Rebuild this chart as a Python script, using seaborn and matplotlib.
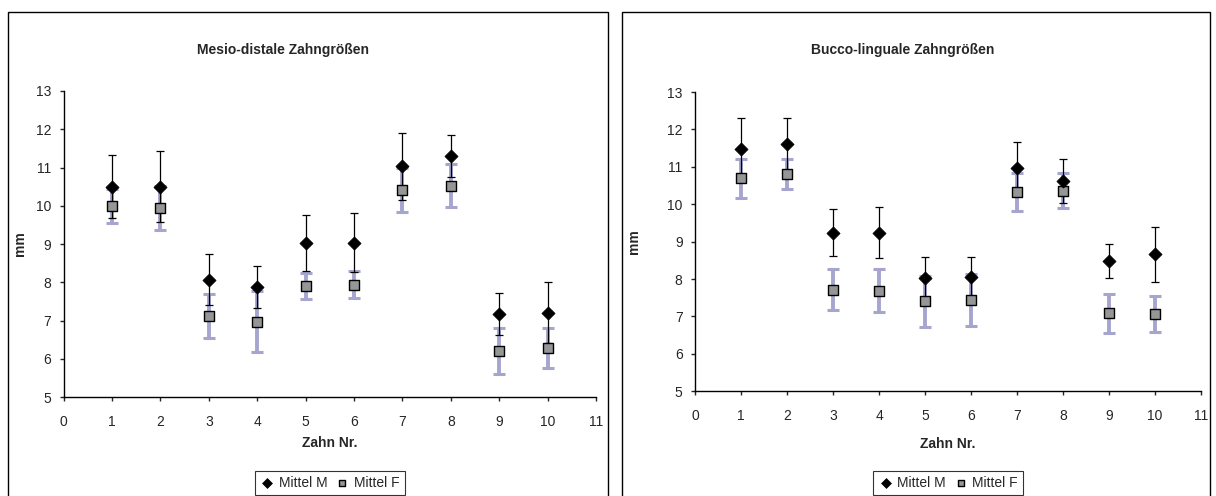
import numpy as np
import matplotlib
matplotlib.use("Agg")
import matplotlib.pyplot as plt
import seaborn as sns
from matplotlib.patches import Rectangle

# data
teeth = [1, 2, 3, 4, 5, 6, 7, 8, 9, 10]

md_m = [10.50, 10.50, 8.07, 7.88, 9.03, 9.03, 11.03, 11.31, 7.17, 7.21]
md_m_err = [0.83, 0.92, 0.67, 0.55, 0.72, 0.77, 0.88, 0.55, 0.55, 0.80]
md_f = [10.00, 9.95, 7.13, 6.97, 7.90, 7.94, 10.42, 10.53, 6.20, 6.29]
md_f_err = [0.44, 0.57, 0.57, 0.80, 0.34, 0.35, 0.57, 0.57, 0.60, 0.53]

bl_m = [11.47, 11.60, 9.24, 9.24, 8.04, 8.05, 10.98, 10.62, 8.48, 8.66]
bl_m_err = [0.83, 0.70, 0.63, 0.69, 0.55, 0.55, 0.68, 0.60, 0.46, 0.73]
bl_f = [10.69, 10.81, 7.72, 7.69, 7.41, 7.44, 10.33, 10.36, 7.08, 7.07]
bl_f_err = [0.51, 0.40, 0.56, 0.57, 0.68, 0.70, 0.50, 0.47, 0.53, 0.49]

titles = ["Mesio-distale Zahngrößen", "Bucco-linguale Zahngrößen"]
labels = ["Mittel M", "Mittel F"]

sns.set_style("white")
plt.rcParams["font.family"] = ["Liberation Sans", "DejaVu Sans"]

W, H = 1216, 496
fig = plt.figure(figsize=(W / 100, H / 100), dpi=100)

lavender = "#a5a5cf"
grey = "#969696"

# panel frames
for x0, x1 in [(8, 608), (622, 1210)]:
    fig.add_artist(Rectangle((x0 / W, -0.1), (x1 - x0) / W, 0.1 + (H - 12) / H,
                             transform=fig.transFigure, fill=False,
                             ec="black", lw=1))

panels = [
    # left, bottom, width, height (pixels), title x, ylabel x, xlabel y, data
    ((63.7, 397.3, 532.3, 306.4), 283, -0.069, -0.126,
     (md_m, md_m_err, md_f, md_f_err)),
    ((695, 391.3, 506, 299.3), 903, -0.107, -0.153,
     (bl_m, bl_m_err, bl_f, bl_f_err)),
]

for i, (box, tx, ylx, xly, (m, m_err, f, f_err)) in enumerate(panels):
    left, bottom, width, height = box
    ax = fig.add_axes([left / W, (H - bottom) / H, width / W, height / H])

    # error bars
    ax.errorbar(teeth, f, yerr=f_err, fmt="none", ecolor=lavender,
                elinewidth=2.8, capsize=4.3, capthick=2.2, zorder=2)
    ax.errorbar(teeth, m, yerr=m_err, fmt="none", ecolor="black",
                elinewidth=0.9, capsize=2.9, capthick=0.9, zorder=3)

    # markers
    sns.scatterplot(x=teeth, y=f, marker="s", s=42, color=grey,
                    edgecolor="black", linewidth=1, label=labels[1],
                    ax=ax, zorder=4)
    sns.scatterplot(x=teeth, y=m, marker="D", s=45, color="black",
                    edgecolor="black", linewidth=0.5, label=labels[0],
                    ax=ax, zorder=5)

    ax.set_xlim(0, 11)
    ax.set_ylim(5, 13)
    ax.set_xticks(range(0, 12))
    ax.set_yticks(range(5, 14))

    for s in ["top", "right"]:
        ax.spines[s].set_visible(False)
    for s in ["left", "bottom"]:
        ax.spines[s].set_color("black")
        ax.spines[s].set_linewidth(1)

    ax.tick_params(axis="x", direction="out", length=3, width=1,
                   pad=10, labelsize=10, bottom=True)
    ax.tick_params(axis="y", direction="out", length=3, width=1,
                   pad=6, labelsize=10, left=True)

    ax.set_xlabel("Zahn Nr.", fontsize=10, fontweight="bold")
    ax.set_ylabel("mm", fontsize=10, fontweight="bold")
    ax.xaxis.set_label_coords(0.5, xly)
    ax.yaxis.set_label_coords(ylx, 0.5)

    fig.text(tx / W, 1 - 50 / H, titles[i], ha="center", va="center",
             fontsize=10, fontweight="bold")

    handles, lbls = ax.get_legend_handles_labels()
    order = [lbls.index(labels[0]), lbls.index(labels[1])]
    leg_top = (bottom - 471) / height
    ax.legend([handles[k] for k in order], [lbls[k] for k in order],
              loc="upper center", bbox_to_anchor=(0.5, leg_top), ncol=2,
              frameon=True, fancybox=False, edgecolor="black",
              fontsize=10, handletextpad=0.3, columnspacing=0.5,
              borderpad=0.35, borderaxespad=0, handlelength=1.1,
              markerscale=0.75)
    ax.get_legend().get_frame().set_linewidth(0.8)

fig.savefig("out.png", dpi=100)
